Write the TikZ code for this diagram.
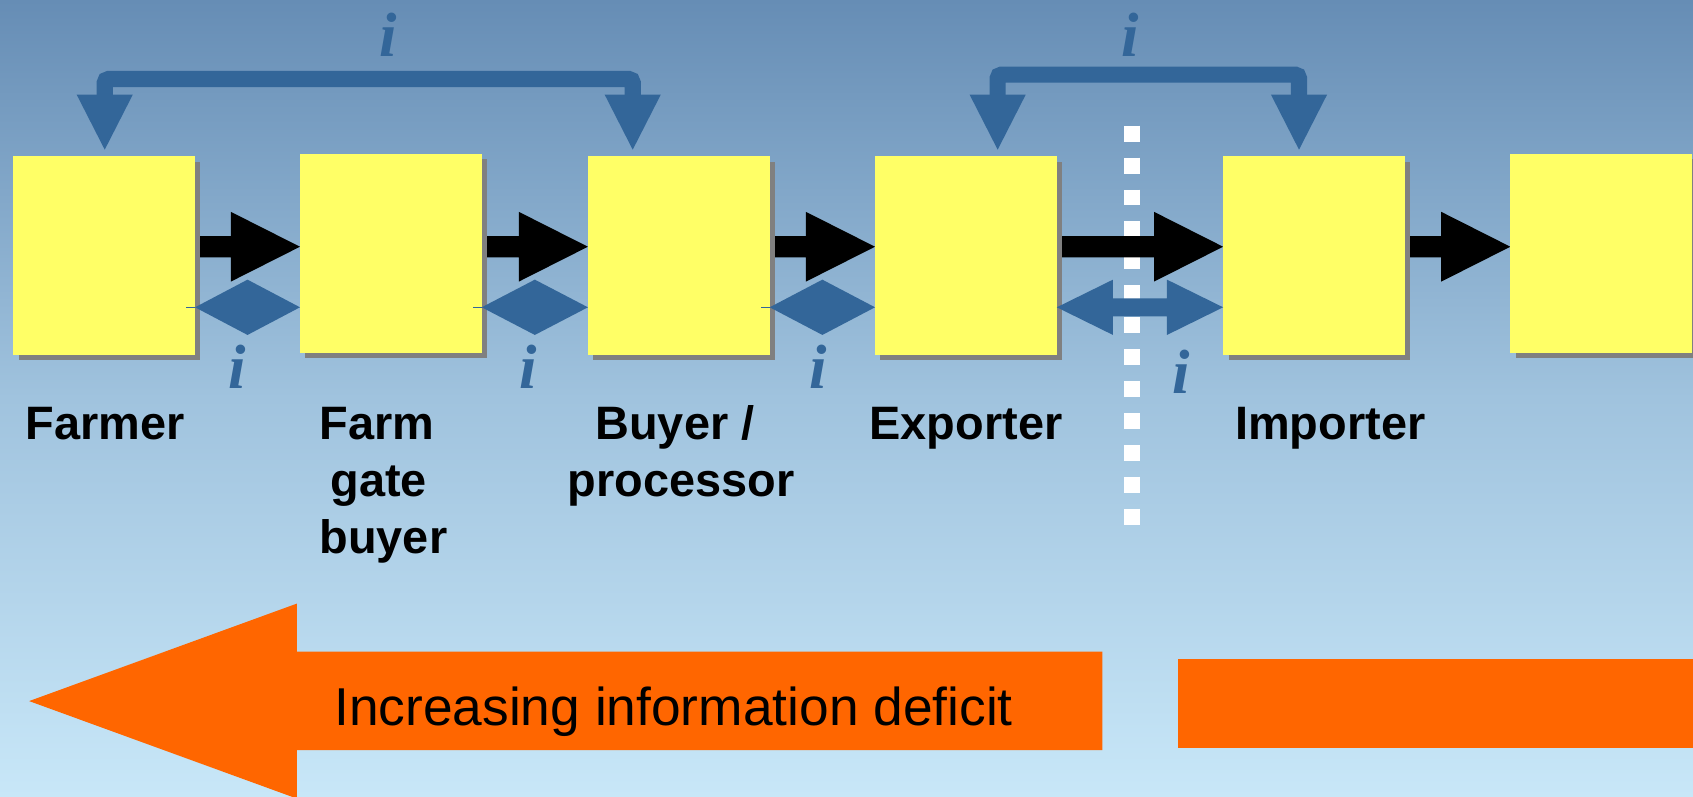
\documentclass[tikz,border=0pt]{standalone}
\usepackage{fontspec}
\newfontfamily\lsans{Liberation Sans}
\newfontfamily\lserif{Liberation Serif}
\usetikzlibrary{calc,shadows}
\pgfdeclarelayer{backdrop}
\pgfdeclarelayer{under}
\pgfsetlayers{backdrop,under,main}

\definecolor{bgtop}{RGB}{102,141,181}
\definecolor{bgmid}{RGB}{160,195,222}
\definecolor{bgbot}{RGB}{200,231,248}
\definecolor{boxyellow}{RGB}{255,255,102}
\definecolor{shadowgray}{RGB}{128,128,128}
\definecolor{iblue}{RGB}{51,102,153}
\definecolor{deficit}{RGB}{255,102,0}

\tikzset{
  stage/.style={fill=boxyellow, minimum width=3.368cm, minimum height=3.68cm,
    inner sep=0pt, outer sep=0pt,
    drop shadow={shadow xshift=0.1cm, shadow yshift=-0.1cm, fill=shadowgray, opacity=1}},
  stagelabel/.style={anchor=base west, inner sep=0pt,
    font={\lsans\bfseries\fontsize{24.72pt}{30.05pt}\selectfont}},
  infolabel/.style={anchor=base, inner sep=0pt, text=iblue,
    font={\lserif\bfseries\itshape\fontsize{33pt}{36pt}\selectfont}},
  ibar/.style={draw=iblue, line width=8.5pt, rounded corners=2pt},
  ihead/.style={fill=iblue},
  flow/.style={fill=black},
  border/.style={draw=white, line width=8.3pt, dash pattern=on 8.39pt off 8.43pt},
}

% black goods-flow arrow from the east side of #1 to the west side of #2
\newcommand\flowarrow[2]{%
  \fill[flow] (#1.east |- flowtop) -- ($(#2.west |- flowtop)+(-64,0)$)
    -- ($(#2.west |- flowhtop)+(-64,0)$) -- (#2.west |- flowmid)
    -- ($(#2.west |- flowhbot)+(-64,0)$) -- ($(#2.west |- flowbot)+(-64,0)$)
    -- (#1.east |- flowbot) -- cycle;}

% two information arrow heads meeting back to back between #1 and #2
\newcommand\infodiamond[2]{%
  \fill[ihead] (#1.east |- infomid)
    -- ($(#1.east |- infotop)!0.5!(#2.west |- infotop)$)
    -- (#2.west |- infomid)
    -- ($(#1.east |- infobot)!0.5!(#2.west |- infobot)$) -- cycle;
  \draw[iblue, line width=0.6pt] ($(#1.east |- infomid)+(-8,0)$) -- (#1.east |- infomid);}

\begin{document}
\begin{tikzpicture}[x=0.02cm, y=-0.02cm]
\useasboundingbox (0,0) rectangle (1568,738);

\begin{pgfonlayer}{backdrop}
  \shade[top color=bgtop, bottom color=bgbot, middle color=bgmid] (0,0) rectangle (1568,738);
\end{pgfonlayer}

% reference levels for the connectors
\coordinate (flowmid)  at (0,228.5);
\coordinate (flowtop)  at (0,218.6);
\coordinate (flowbot)  at (0,238.4);
\coordinate (flowhtop) at (0,196.2);
\coordinate (flowhbot) at (0,260.8);
\coordinate (infomid)  at (0,284.6);
\coordinate (infotop)  at (0,259);
\coordinate (infobot)  at (0,310.2);
\coordinate (ishafttop) at (0,276.4);
\coordinate (ishaftbot) at (0,293);

% chain stages
\node[stage] (b1) at (96.5,236.6)  {};
\node[stage] (b2) at (362,234.6)   {};
\node[stage] (b3) at (628.7,236.6) {};
\node[stage] (b4) at (894.6,236.6) {};
\node[stage] (b5) at (1217,236.6)  {};
\node[stage] (b6) at (1483,234.6)  {};

% border line and goods flow, beneath the stages
\begin{pgfonlayer}{under}
  \draw[border] (1048.6,116.4) -- (1048.6,487.2);
  \flowarrow{b1}{b2}
  \flowarrow{b2}{b3}
  \flowarrow{b3}{b4}
  \flowarrow{b4}{b5}
  \flowarrow{b5}{b6}
\end{pgfonlayer}

% information exchange between neighbours
\infodiamond{b1}{b2}
\infodiamond{b2}{b3}
\infodiamond{b3}{b4}
\fill[ihead] (b4.east |- infomid)
  -- ($(b4.east |- infotop)+(52,0)$) -- ($(b4.east |- ishafttop)+(52,0)$)
  -- ($(b5.west |- ishafttop)+(-52,0)$) -- ($(b5.west |- infotop)+(-52,0)$)
  -- (b5.west |- infomid)
  -- ($(b5.west |- infobot)+(-52,0)$) -- ($(b5.west |- ishaftbot)+(-52,0)$)
  -- ($(b4.east |- ishaftbot)+(52,0)$) -- ($(b4.east |- infobot)+(52,0)$) -- cycle;

% long-range information links
\coordinate (t1) at ($(b1.north)+(0.5,-6)$);
\coordinate (t2) at ($(b3.north)+(-42.7,-6)$);
\coordinate (t3) at ($(b4.north)+(29.4,-6)$);
\coordinate (t4) at ($(b5.north)+(-13.9,-6)$);
\draw[ibar] ($(t1)+(0,-48)$) |- ($(t2)+(0,-65.4)$) -- ($(t2)+(0,-48)$);
\draw[ibar] ($(t3)+(0,-48)$) |- ($(t4)+(0,-69.5)$) -- ($(t4)+(0,-48)$);
\foreach \t in {t1,t2,t3,t4}
  \fill[ihead] (\t) -- ($(\t)+(-26,-51)$) -- ($(\t)+(26,-51)$) -- cycle;

% information markers
\node[infolabel] (i1) at (359.5,52)    {i};
\node[infolabel] (i2) at (1047,52)     {i};
\node[infolabel] (i3) at (219.5,359.5) {i};
\node[infolabel] (i4) at (489.5,359.5) {i};
\node[infolabel] (i5) at (758,359.5)   {i};
\node[infolabel] (i6) at (1094,364)    {i};

% stage names
\node[stagelabel] (lfarmer) at (23.4,406.9) {Farmer};
\node[stagelabel] (lgate) at (295.6,406.9)
  {\begin{tabular}[t]{@{}l@{}}Farm\\\hspace*{5.7pt}gate\\buyer\end{tabular}};
\node[stagelabel] (lbuyer) at (525.3,406.9)
  {\begin{tabular}[t]{@{}l@{}}\hspace*{14.7pt}Buyer /\\processor\end{tabular}};
\node[stagelabel] (lexporter) at (805,406.9) {Exporter};
\node[stagelabel] (limporter) at (1143.7,406.9) {Importer};

% information deficit band
\fill[deficit] (1021,603.6) -- (275,603.6) -- (275,559) -- (27,649.3)
  -- (275,739.6) -- (275,694.7) -- (1021,694.7) -- cycle;
\fill[deficit] (1091,610) rectangle (1580,693);
\node[anchor=base west, inner sep=0pt, font={\lsans\fontsize{28.1pt}{32pt}\selectfont}]
  (deficitlabel) at (309.3,671.5) {Increasing information deficit};
\end{tikzpicture}
\end{document}
